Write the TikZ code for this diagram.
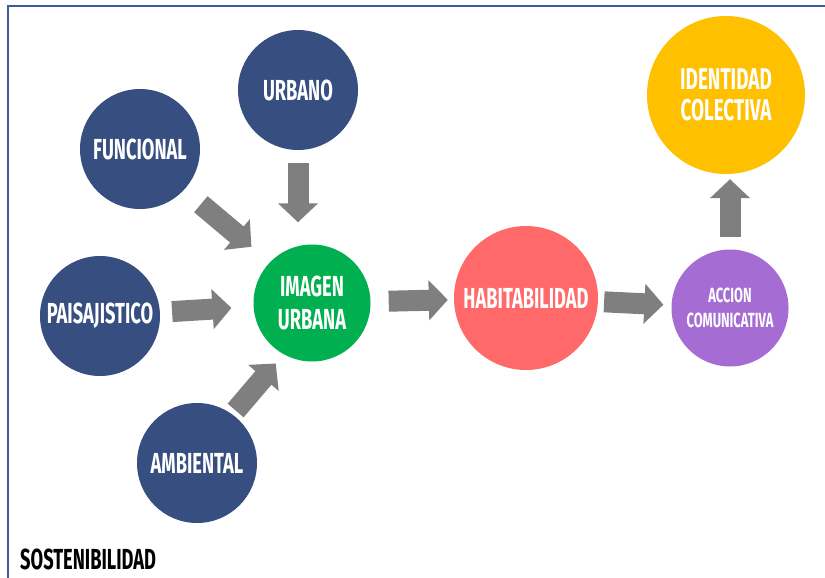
\documentclass[tikz,border=0pt]{standalone}
\usepackage{fontspec}
\usetikzlibrary{arrows.meta}
\newfontfamily\condfont{Fira Sans}[FakeStretch=0.63]
\definecolor{navyball}{RGB}{55,78,128}
\definecolor{greenball}{RGB}{0,176,80}
\definecolor{redball}{RGB}{255,105,105}
\definecolor{purpleball}{RGB}{165,108,211}
\definecolor{yellowball}{RGB}{255,192,0}
\definecolor{arrowgray}{RGB}{127,127,127}
\definecolor{framecol}{RGB}{63,90,150}
\begin{document}
\begin{tikzpicture}[x = 1pt, y = -1pt,
    ball/.style = {circle, inner sep = 0pt, minimum size = #1, text = white, align = center,
                   font = \condfont\bfseries\fontsize{29}{33}\selectfont},
    blockarrow/.style = {draw = arrowgray, line width = 21pt, -{Triangle[length = 19pt, width = 39pt]}}]
    \useasboundingbox (0,0) rectangle (825,578);
    % marco
    \draw[framecol, line width = 2pt] (8,578) -- (8,6) -- (825,6);

    % circulos
    \node[ball = 120pt, fill = navyball] (urbano) at (298,90) {URBANO};
    \node[ball = 120pt, fill = navyball] (funcional) at (140,149) {FUNCIONAL};
    \node[ball = 120pt, fill = navyball] (paisaje) at (100,316) {PAISAJISTICO};
    \node[ball = 120pt, fill = navyball] (ambiental) at (197,463) {AMBIENTAL};
    \node[ball = 117pt, fill = greenball] (imagen) at (312,303) {IMAGEN\\URBANA};
    \node[ball = 144pt, fill = redball] (habitab) at (526,298) {HABITABILIDAD};
    \node[ball = 117pt, fill = purpleball, font = \condfont\bfseries\fontsize{20.5}{25}\selectfont] (accion) at (730,308) {ACCION\\COMUNICATIVA};
    \node[ball = 158pt, fill = yellowball, font = \condfont\bfseries\fontsize{30}{31}\selectfont] (identidad) at (726,95) {IDENTIDAD\\COLECTIVA};
    \node[anchor = base west, inner sep = 0pt, text depth = 0pt, font = \condfont\bfseries\fontsize{29}{30}\selectfont] (sost) at (20,569) {SOSTENIBILIDAD};

    % flechas
    \draw[blockarrow, shorten <= 13pt, shorten >= 22pt] (urbano.south) -- (urbano.south |- imagen.north);
    \draw[blockarrow, shorten <= 22pt, shorten >= 24pt] (funcional.317) -- (imagen.136);
    \draw[blockarrow, shorten <= 12pt, shorten >= 22pt] (paisaje) -- (imagen);
    \draw[blockarrow, shorten <= 5pt, shorten >= 12pt] (ambiental.54) -- (imagen.241);
    \draw[blockarrow, shorten <= 18pt, shorten >= 6pt] (imagen) -- (habitab);
    \draw[blockarrow, shorten <= 6pt, shorten >= 8pt] (habitab) -- (accion);
    \draw[blockarrow, shorten <= 12pt, shorten >= 5pt] (accion.north) -- (accion.north |- identidad.south);
\end{tikzpicture}
\end{document}
